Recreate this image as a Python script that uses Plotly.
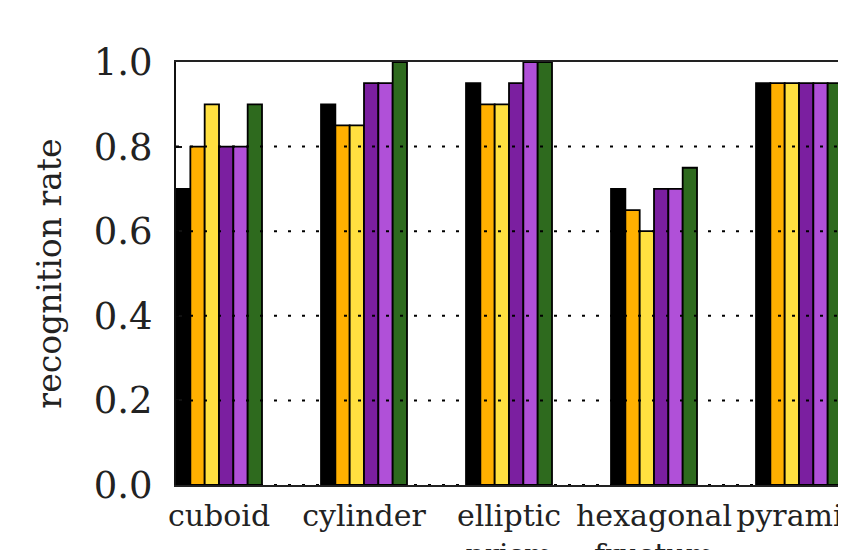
import plotly.graph_objects as go

categories = ["cuboid", "cylinder", "elliptic<br>prism", "hexagonal<br>frustum", "pyramid"]
series_names = ["method 1", "method 2", "method 3", "method 4", "method 5", "method 6"]
series_colors = ["#000000", "#FFB000", "#FFE040", "#7B1FA0", "#B050D8", "#2E6A1E"]
values = [
    [0.70, 0.90, 0.95, 0.70, 0.95],
    [0.80, 0.85, 0.90, 0.65, 0.95],
    [0.90, 0.85, 0.90, 0.60, 0.95],
    [0.80, 0.95, 0.95, 0.70, 0.95],
    [0.80, 0.95, 1.00, 0.70, 0.95],
    [0.90, 1.00, 1.00, 0.75, 0.95],
]
y_ticks = [0.0, 0.2, 0.4, 0.6, 0.8, 1.0]
y_ticktext = ["0.0", "0.2", "0.4", "0.6", "0.8", "1.0"]

FONT = "DejaVu Serif"

fig = go.Figure()
for name, color, vals in zip(series_names, series_colors, values):
    fig.add_trace(go.Bar(
        x=categories, y=vals, name=name,
        marker=dict(color=color, line=dict(color="#000000", width=1.8)),
    ))

for t in y_ticks[:-1]:
    fig.add_shape(type="line", xref="paper", x0=0, x1=1, yref="y", y0=t, y1=t,
                  line=dict(color="#000000", width=2, dash="3px,11px"), layer="above")

fig.update_layout(
    width=846, height=550,
    margin=dict(l=168, r=8, t=54, b=73),
    paper_bgcolor="white", plot_bgcolor="white",
    barmode="group", bargap=0.407, bargroupgap=0,
    showlegend=False,
    font=dict(family=FONT, color="#000000"),
    xaxis=dict(
        range=[-0.2966, 4.324], showgrid=False, automargin=False,
        showline=True, linecolor="#222222", linewidth=2, mirror=True,
        ticks="", tickfont=dict(family=FONT, size=30, color="#222222"),
        ticklabelstandoff=3,
    ),
    yaxis=dict(
        range=[0, 1.0], tickvals=y_ticks, ticktext=y_ticktext, automargin=False,
        showgrid=False, zeroline=False,
        showline=True, linecolor="#111111", linewidth=2, mirror="ticks",
        ticks="inside", ticklen=6, tickwidth=1.5, tickcolor="#111111",
        tickfont=dict(family=FONT, size=37, color="#222222"),
        ticklabelstandoff=14,
        title=dict(text="recognition rate", font=dict(family=FONT, size=33, color="#222222"), standoff=22),
    ),
)

fig.write_html("out.html")
